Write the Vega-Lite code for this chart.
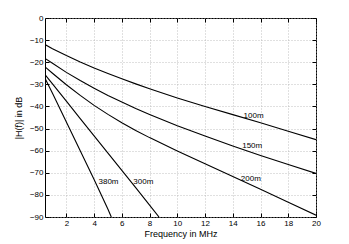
{
  "$schema": "https://vega.github.io/schema/vega-lite/v6.json",
  "autosize": "none",
  "width": 271,
  "height": 199,
  "padding": {"left": 45, "top": 18, "right": 33, "bottom": 27},
  "background": "white",
  "config": {
    "font": "Liberation Sans",
    "view": {"stroke": "black", "strokeWidth": 1},
    "axis": {
      "domain": false,
      "grid": true,
      "gridColor": "#b0b0b0",
      "gridDash": [1, 2],
      "gridWidth": 0.8,
      "tickColor": "black",
      "tickSize": -4,
      "labelOverlap": false,
      "labelFlush": false,
      "labelBound": false,
      "labelFontSize": 8,
      "labelColor": "black",
      "titleFontSize": 9,
      "titleFontWeight": "normal",
      "titleColor": "black"
    }
  },
  "datasets": {
    "curves": [
      {"cable": "100m", "f": 0.46, "db": -12.0},
      {"cable": "100m", "f": 1, "db": -13.9},
      {"cable": "100m", "f": 2, "db": -17.0},
      {"cable": "100m", "f": 3, "db": -19.9},
      {"cable": "100m", "f": 4, "db": -22.6},
      {"cable": "100m", "f": 5, "db": -25.1},
      {"cable": "100m", "f": 6, "db": -27.5},
      {"cable": "100m", "f": 7, "db": -29.8},
      {"cable": "100m", "f": 8, "db": -32.0},
      {"cable": "100m", "f": 10, "db": -36.2},
      {"cable": "100m", "f": 12, "db": -40.0},
      {"cable": "100m", "f": 14, "db": -43.7},
      {"cable": "100m", "f": 16, "db": -47.4},
      {"cable": "100m", "f": 18, "db": -51.2},
      {"cable": "100m", "f": 20, "db": -55.0},
      {"cable": "150m", "f": 0.46, "db": -18.3},
      {"cable": "150m", "f": 1, "db": -20.5},
      {"cable": "150m", "f": 2, "db": -24.6},
      {"cable": "150m", "f": 3, "db": -28.3},
      {"cable": "150m", "f": 4, "db": -31.8},
      {"cable": "150m", "f": 5, "db": -35.0},
      {"cable": "150m", "f": 6, "db": -38.0},
      {"cable": "150m", "f": 7, "db": -40.9},
      {"cable": "150m", "f": 8, "db": -43.6},
      {"cable": "150m", "f": 10, "db": -48.7},
      {"cable": "150m", "f": 12, "db": -53.4},
      {"cable": "150m", "f": 14, "db": -57.9},
      {"cable": "150m", "f": 16, "db": -62.2},
      {"cable": "150m", "f": 18, "db": -66.3},
      {"cable": "150m", "f": 20, "db": -70.3},
      {"cable": "200m", "f": 0.46, "db": -22.1},
      {"cable": "200m", "f": 1, "db": -25.0},
      {"cable": "200m", "f": 2, "db": -30.2},
      {"cable": "200m", "f": 3, "db": -35.0},
      {"cable": "200m", "f": 4, "db": -39.5},
      {"cable": "200m", "f": 5, "db": -43.6},
      {"cable": "200m", "f": 6, "db": -47.4},
      {"cable": "200m", "f": 7, "db": -50.9},
      {"cable": "200m", "f": 8, "db": -54.1},
      {"cable": "200m", "f": 10, "db": -60.1},
      {"cable": "200m", "f": 12, "db": -65.9},
      {"cable": "200m", "f": 14, "db": -71.7},
      {"cable": "200m", "f": 16, "db": -77.5},
      {"cable": "200m", "f": 18, "db": -83.3},
      {"cable": "200m", "f": 20, "db": -89.2},
      {"cable": "300m", "f": 0.46, "db": -25.6},
      {"cable": "300m", "f": 1, "db": -29.8},
      {"cable": "300m", "f": 2, "db": -37.6},
      {"cable": "300m", "f": 3, "db": -45.5},
      {"cable": "300m", "f": 4, "db": -53.3},
      {"cable": "300m", "f": 5, "db": -61.1},
      {"cable": "300m", "f": 6, "db": -68.9},
      {"cable": "300m", "f": 7, "db": -76.7},
      {"cable": "300m", "f": 8, "db": -84.6},
      {"cable": "300m", "f": 8.68, "db": -90.0},
      {"cable": "380m", "f": 0.46, "db": -27.3},
      {"cable": "380m", "f": 1, "db": -34.0},
      {"cable": "380m", "f": 2, "db": -47.0},
      {"cable": "380m", "f": 3, "db": -60.0},
      {"cable": "380m", "f": 4, "db": -73.0},
      {"cable": "380m", "f": 5, "db": -86.5},
      {"cable": "380m", "f": 5.24, "db": -90.0}
    ],
    "labels": [
      {"label": "100m", "f": 15.5, "db": -44.4},
      {"label": "150m", "f": 15.4, "db": -57.8},
      {"label": "200m", "f": 15.3, "db": -72.9},
      {"label": "300m", "f": 7.55, "db": -74.2},
      {"label": "380m", "f": 5.04, "db": -74.2}
    ]
  },
  "layer": [
    {
      "data": {"name": "curves"},
      "mark": {"type": "line", "color": "black", "strokeWidth": 1.1, "clip": true},
      "encoding": {
        "x": {
          "field": "f", "type": "quantitative",
          "scale": {"domain": [0.46, 20], "nice": false, "zero": false},
          "axis": {"values": [2, 4, 6, 8, 10, 12, 14, 16, 18, 20], "title": "Frequency in MHz", "labelPadding": 6, "titlePadding": 2}
        },
        "y": {
          "field": "db", "type": "quantitative",
          "scale": {"domain": [-90, 0], "nice": false, "zero": false},
          "axis": {"values": [-90, -80, -70, -60, -50, -40, -30, -20, -10, 0], "title": "|H(f)| in dB", "labelPadding": 6, "titlePadding": 6}
        },
        "detail": {"field": "cable"}
      }
    },
    {
      "data": {"name": "labels"},
      "mark": {"type": "text", "fontSize": 8, "align": "center", "baseline": "middle", "color": "black"},
      "encoding": {
        "x": {
          "field": "f", "type": "quantitative",
          "axis": {"orient": "top", "values": [2, 4, 6, 8, 10, 12, 14, 16, 18, 20], "labels": false, "grid": false, "title": null}
        },
        "y": {
          "field": "db", "type": "quantitative",
          "axis": {"orient": "right", "values": [-90, -80, -70, -60, -50, -40, -30, -20, -10, 0], "labels": false, "grid": false, "title": null}
        },
        "text": {"field": "label"}
      }
    }
  ],
  "resolve": {"axis": {"x": "independent", "y": "independent"}}
}
